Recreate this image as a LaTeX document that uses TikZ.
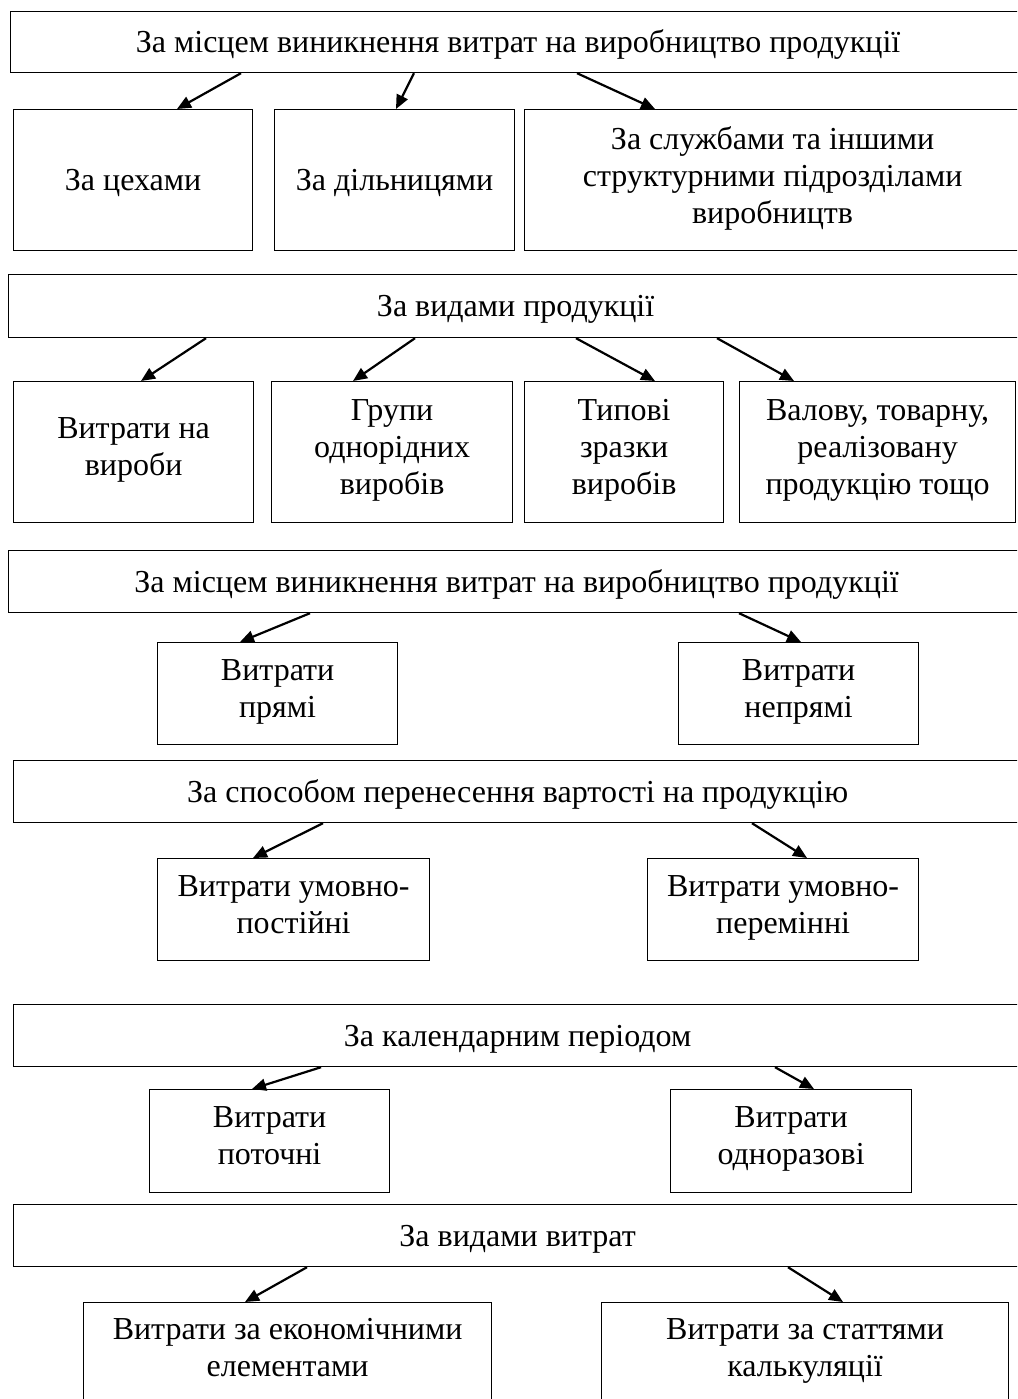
\documentclass[tikz,border=0pt]{standalone}
\usepackage{fontspec}
\setmainfont{Liberation Serif}
\usetikzlibrary{arrows.meta}
\newcommand{\cellfont}{\fontsize{32}{37}\selectfont}
\newcommand{\topstrut}{\rule{0pt}{32pt}}
\newcommand{\botstrut}{\rule[-11pt]{0pt}{11pt}}
\tikzset{
  head/.style={draw, line width=1.2pt, anchor=north west, inner sep=0pt,
               align=center, font=\cellfont,
               execute at begin node=\topstrut, execute at end node=\botstrut},
  cell/.style={draw, line width=1.2pt, anchor=north west, inner sep=0pt,
               align=center, font=\cellfont,
               execute at begin node=\topstrut, execute at end node=\botstrut},
  link/.style={-{Triangle[length=14pt, width=12pt]}, line width=2.2pt},
}

\begin{document}
\begin{tikzpicture}[x=1pt, y=-1pt]
  \useasboundingbox (0,0) rectangle (1017,1399);
  \clip (0,0) rectangle (1017,1399);

  \node[head, minimum width=1015pt, minimum height=61pt] (place) at (10,11)
    {За місцем виникнення витрат на виробництво продукції};
  \node[cell, minimum width=239pt, minimum height=141pt] (shops) at (13,109) {За цехами};
  \node[cell, minimum width=240pt, minimum height=141pt] (sites) at (274,109) {За дільницями};
  \node[cell, minimum width=496pt, minimum height=141pt] (units) at (524,109)
    {За службами та іншими\\структурними підрозділами\\виробництв};

  \node[head, minimum width=1014pt, minimum height=63pt] (product) at (8,274) {За видами продукції};
  \node[cell, minimum width=240pt, minimum height=141pt] (items) at (13,381) {Витрати на\\вироби};
  \node[cell, minimum width=241pt, minimum height=141pt] (groups) at (271,381) {Групи\\однорідних\\виробів};
  \node[cell, minimum width=199pt, minimum height=141pt] (samples) at (524,381) {Типові\\зразки\\виробів};
  \node[cell, minimum width=276pt, minimum height=141pt] (output) at (739,381)
    {Валову, товарну,\\реалізовану\\продукцію тощо};

  \node[head, minimum width=1016pt, minimum height=62pt] (origin) at (8,550)
    {За місцем виникнення витрат на виробництво продукції};
  \node[cell, minimum width=240pt, minimum height=102pt] (direct) at (157,642) {Витрати\\прямі};
  \node[cell, minimum width=240pt, minimum height=102pt] (indirect) at (678,642) {Витрати\\непрямі};

  \node[head, minimum width=1008pt, minimum height=62pt] (transfer) at (13,760)
    {За способом перенесення вартості на продукцію};
  \node[cell, minimum width=272pt, minimum height=102pt] (fixed) at (157,858) {Витрати умовно-\\постійні};
  \node[cell, minimum width=271pt, minimum height=102pt] (variable) at (647,858) {Витрати умовно-\\перемінні};

  \node[head, minimum width=1008pt, minimum height=62pt] (period) at (13,1004) {За календарним періодом};
  \node[cell, minimum width=240pt, minimum height=103pt] (current) at (149,1089) {Витрати\\поточні};
  \node[cell, minimum width=241pt, minimum height=103pt] (onetime) at (670,1089) {Витрати\\одноразові};

  \node[head, minimum width=1008pt, minimum height=62pt] (kinds) at (13,1204) {За видами витрат};
  \node[cell, minimum width=408pt, minimum height=100pt] (elements) at (83,1302)
    {Витрати за економічними\\елементами};
  \node[cell, minimum width=407pt, minimum height=100pt] (articles) at (601,1302)
    {Витрати за статтями\\калькуляції};

  \draw[link] (241,0 |- place.south) -- (177,0 |- shops.north);
  \draw[link] (414,0 |- place.south) -- (396,0 |- sites.north);
  \draw[link] (577,0 |- place.south) -- (655,0 |- units.north);

  \draw[link] (206,0 |- product.south) -- (141,0 |- items.north);
  \draw[link] (415,0 |- product.south) -- (353,0 |- groups.north);
  \draw[link] (576,0 |- product.south) -- (655,0 |- samples.north);
  \draw[link] (717,0 |- product.south) -- (794,0 |- output.north);

  \draw[link] (310,0 |- origin.south) -- (240,0 |- direct.north);
  \draw[link] (739,0 |- origin.south) -- (801,0 |- indirect.north);

  \draw[link] (323,0 |- transfer.south) -- (253,0 |- fixed.north);
  \draw[link] (752,0 |- transfer.south) -- (807,0 |- variable.north);

  \draw[link] (321,0 |- period.south) -- (252,0 |- current.north);
  \draw[link] (775,0 |- period.south) -- (814,0 |- onetime.north);

  \draw[link] (307,0 |- kinds.south) -- (245,0 |- elements.north);
  \draw[link] (788,0 |- kinds.south) -- (843,0 |- articles.north);
\end{tikzpicture}
\end{document}
